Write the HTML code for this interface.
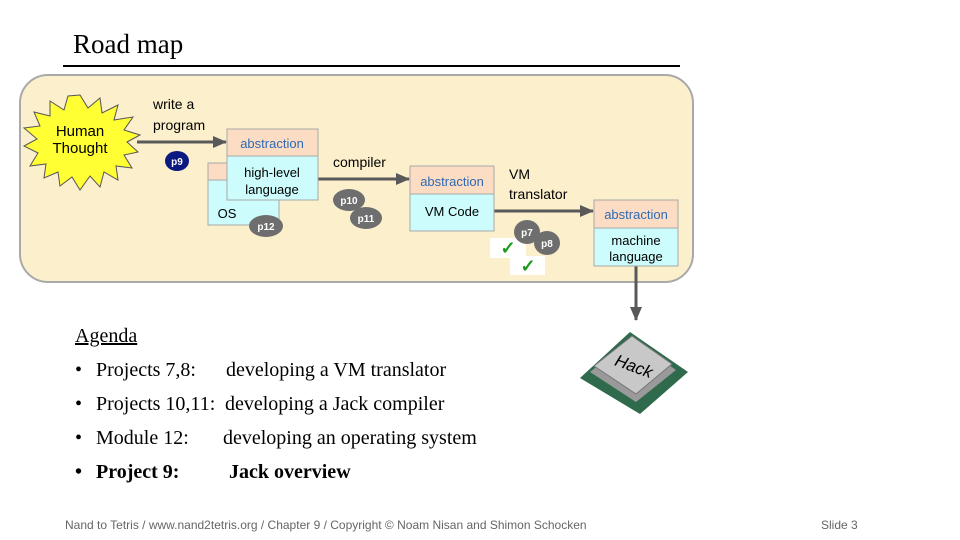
<!DOCTYPE html>
<html><head><style>
body{margin:0;width:960px;height:540px;background:#fff;position:relative;overflow:hidden;font-family:"Liberation Sans",sans-serif}
.a{position:absolute}
.s{font-family:"Liberation Serif",serif;font-size:20px;color:#000}
</style></head><body>
<div class="a s" style="left:73px;top:29px;font-size:27px">Road map</div>
<div class="a" style="left:63px;top:65px;width:617px;height:1.5px;background:#000"></div>
<svg class="a" style="left:0;top:0" width="960" height="540">
<defs><marker id="ar" markerWidth="14" markerHeight="12" refX="13" refY="6" orient="auto" markerUnits="userSpaceOnUse"><path d="M0,0 L14,6 L0,12z" fill="#595959"/></marker></defs>
<rect x="20" y="75" width="673" height="207" rx="28" fill="#fcefcc" stroke="#a9a9a9" stroke-width="2"/>
<polygon points="80,95 88,108 100,98 102,113 118,105 114,120 133,117 124,130 140,135 127,142 138,152 124,155 132,168 116,166 118,180 104,172 100,187 90,176 80,190 72,177 60,186 58,172 44,178 46,164 30,166 38,153 24,146 37,139 24,128 40,126 34,112 50,116 50,101 64,110 68,96" fill="#ffff33" stroke="#555" stroke-width="1"/>
<text x="80" y="136" font-size="15" text-anchor="middle" font-family="Liberation Sans">Human</text>
<text x="80" y="153" font-size="15" text-anchor="middle" font-family="Liberation Sans">Thought</text>
<line x1="137" y1="142" x2="226" y2="142" stroke="#595959" stroke-width="3" marker-end="url(#ar)"/>
<line x1="318" y1="179" x2="409" y2="179" stroke="#595959" stroke-width="3" marker-end="url(#ar)"/>
<line x1="494" y1="211" x2="593" y2="211" stroke="#595959" stroke-width="3" marker-end="url(#ar)"/>
<line x1="636" y1="266" x2="636" y2="320" stroke="#595959" stroke-width="3" marker-end="url(#ar)"/>
<g stroke="#a8a8a8" stroke-width="1">
<rect x="208" y="163" width="71" height="17" fill="#fcdcc3"/><rect x="208" y="180" width="71" height="45" fill="#ccfcfc"/>
<rect x="227" y="129" width="91" height="27" fill="#fcdcc3"/><rect x="227" y="156" width="91" height="44" fill="#ccfcfc"/>
<rect x="410" y="166" width="84" height="28" fill="#fcdcc3"/><rect x="410" y="194" width="84" height="37" fill="#ccfcfc"/>
<rect x="594" y="200" width="84" height="28" fill="#fcdcc3"/><rect x="594" y="228" width="84" height="38" fill="#ccfcfc"/>
</g>
<g font-family="Liberation Sans" font-size="13" text-anchor="middle">
<text x="272" y="148" fill="#2e6bb5">abstraction</text>
<text x="272" y="177">high-level</text><text x="272" y="194">language</text>
<text x="227" y="218">OS</text>
<text x="452" y="186" fill="#2e6bb5">abstraction</text>
<text x="452" y="216">VM Code</text>
<text x="636" y="219" fill="#2e6bb5">abstraction</text>
<text x="636" y="245">machine</text><text x="636" y="261">language</text>
</g>
<g font-family="Liberation Sans" font-size="14">
<text x="153" y="109">write a</text><text x="153" y="130">program</text>
<text x="333" y="167">compiler</text>
<text x="509" y="179">VM</text><text x="509" y="199">translator</text>
</g>
<g font-family="Liberation Sans" font-size="10" font-weight="bold" fill="#fff" text-anchor="middle">
<ellipse cx="177" cy="161" rx="12" ry="10" fill="#0b1a80"/><text x="177" y="165">p9</text>
<ellipse cx="266" cy="226" rx="17" ry="11" fill="#6e6e6e"/><text x="266" y="230">p12</text>
<ellipse cx="349" cy="200" rx="16" ry="11" fill="#6e6e6e"/><text x="349" y="204">p10</text>
<ellipse cx="366" cy="218" rx="16" ry="11" fill="#6e6e6e"/><text x="366" y="222">p11</text>
<rect x="490" y="238" width="36" height="20" fill="#fff"/><text x="508" y="254" fill="#1a9a1a" font-size="18">✓</text>
<rect x="510" y="256" width="35" height="19" fill="#fff"/><text x="528" y="272" fill="#1a9a1a" font-size="18">✓</text>
<ellipse cx="527" cy="232" rx="13" ry="12" fill="#6e6e6e"/><text x="527" y="236">p7</text>
<ellipse cx="547" cy="243" rx="13" ry="12" fill="#6e6e6e"/><text x="547" y="247">p8</text>
</g>
<g>
<polygon points="580,378 630,332 688,372 640,414" fill="#2f6a4c"/>
<polygon points="590,372 632,338 676,370 636,402" fill="#9a9a9a"/>
<polygon points="594,366 632,336 672,364 636,394" fill="#c8c8c8" stroke="#777"/>
<text x="634" y="372" font-size="17" font-family="Liberation Sans" font-style="italic" transform="rotate(20 634 366)" text-anchor="middle">Hack</text>
</g>
</svg>
<div class="a s" style="left:75px;top:325px;text-decoration:underline">Agenda</div>
<div class="a s" style="left:75px;top:359px">•</div><div class="a s" style="left:96px;top:359px">Projects 7,8:</div><div class="a s" style="left:226px;top:359px">developing a VM translator</div>
<div class="a s" style="left:75px;top:393px">•</div><div class="a s" style="left:96px;top:393px">Projects 10,11:</div><div class="a s" style="left:225px;top:393px">developing a Jack compiler</div>
<div class="a s" style="left:75px;top:427px">•</div><div class="a s" style="left:96px;top:427px">Module 12:</div><div class="a s" style="left:223px;top:427px">developing an operating system</div>
<div class="a s" style="left:75px;top:461px;font-weight:bold">•</div><div class="a s" style="left:96px;top:461px;font-weight:bold">Project 9:</div><div class="a s" style="left:229px;top:461px;font-weight:bold">Jack overview</div>
<div class="a" style="left:65px;top:518px;font-size:12px;color:#666">Nand to Tetris / www.nand2tetris.org / Chapter 9 / Copyright © Noam Nisan and Shimon Schocken</div>
<div class="a" style="left:821px;top:518px;font-size:12px;color:#666">Slide 3</div>
</body></html>
